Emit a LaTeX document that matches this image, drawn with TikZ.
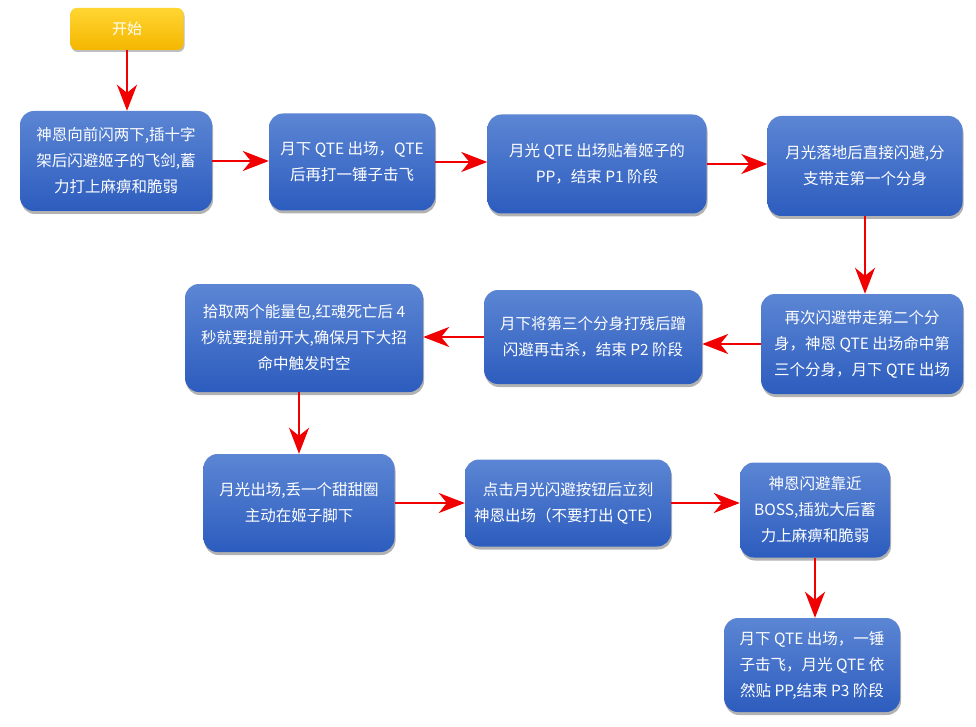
\documentclass[tikz,border=0pt]{standalone}
\usepackage{fontspec}
\setmainfont{Noto Sans CJK SC}
\usetikzlibrary{arrows.meta,shadows}
\definecolor{btop}{RGB}{92,134,212}
\definecolor{bbot}{RGB}{44,92,190}
\definecolor{ytop}{RGB}{255,214,50}
\definecolor{ybot}{RGB}{245,182,0}
\definecolor{arrred}{RGB}{240,0,0}
\tikzset{
  box/.style={rectangle, rounded corners=14pt, top color=btop, bottom color=bbot,
    text=white, align=center, font=\fontsize{15.5}{26}\selectfont, inner sep=0pt,
    drop shadow={shadow xshift=1pt, shadow yshift=-3pt, opacity=0.3, fill=black}},
  startbox/.style={rectangle, rounded corners=6pt, top color=ytop, bottom color=ybot,
    text=white, align=center, font=\fontsize{15}{20}\selectfont,
    minimum width=113pt, minimum height=42pt,
    drop shadow={shadow xshift=1pt, shadow yshift=-2pt, opacity=0.25, fill=black}},
  arr/.style={draw=arrred, line width=2.2pt, -{Stealth[length=26pt, width=20pt, inset=8pt]}}
}
\begin{document}
\begin{tikzpicture}[x=1pt,y=-1pt]
\useasboundingbox[fill=white] (0,0) rectangle (976,727);
\node[startbox] (s) at (127,29) {开始};
\node[box, minimum width=192pt, minimum height=100pt] (b1) at (116,161)
  {神恩向前闪两下,插十字\\架后闪避姬子的飞剑,蓄\\力打上麻痹和脆弱};
\node[box, minimum width=166pt, minimum height=97pt] (b2) at (352,162)
  {月下 QTE 出场，QTE\\后再打一锤子击飞};
\node[box, minimum width=219pt, minimum height=99pt] (b3) at (597,164)
  {月光 QTE 出场贴着姬子的\\PP，结束 P1 阶段};
\node[box, minimum width=195pt, minimum height=100pt] (b4) at (865,166)
  {月光落地后直接闪避,分\\支带走第一个分身};
\node[box, minimum width=202pt, minimum height=100pt] (b5) at (862,344)
  {再次闪避带走第二个分\\身，神恩 QTE 出场命中第\\三个分身，月下 QTE 出场};
\node[box, minimum width=218pt, minimum height=94pt] (b6) at (593,337)
  {月下将第三个分身打残后蹭\\闪避再击杀，结束 P2 阶段};
\node[box, minimum width=238pt, minimum height=108pt] (b7) at (304,338)
  {拾取两个能量包,红魂死亡后 4\\秒就要提前开大,确保月下大招\\命中触发时空};
\node[box, minimum width=191pt, minimum height=98pt] (b8) at (299,503)
  {月光出场,丢一个甜甜圈\\主动在姬子脚下};
\node[box, minimum width=206pt, minimum height=87pt] (b9) at (568,503)
  {点击月光闪避按钮后立刻\\神恩出场（不要打出 QTE）};
\node[box, minimum width=150pt, minimum height=95pt] (b10) at (815,510)
  {神恩闪避靠近\\BOSS,插犹大后蓄\\力上麻痹和脆弱};
\node[box, minimum width=176pt, minimum height=94pt] (b11) at (812,665)
  {月下 QTE 出场，一锤\\子击飞，月光 QTE 依\\然贴 PP,结束 P3 阶段};
\draw[arr] (s) -- (s |- b1.north);
\draw[arr] (b1.east) -- (b1.east -| b2.west);
\draw[arr] (b2.east) -- (b2.east -| b3.west);
\draw[arr] (b3.east) -- (b3.east -| b4.west);
\draw[arr] (b4) -- (b4 |- b5.north);
\draw[arr] (b5.west) -- (b5.west -| b6.east);
\draw[arr] (b6.west) -- (b6.west -| b7.east);
\draw[arr] (b8.north |- b7.south) -- (b8.north);
\draw[arr] (b8.east) -- (b8.east -| b9.west);
\draw[arr] (b9.east) -- (b9.east -| b10.west);
\draw[arr] (b10.south) -- (b10.south |- b11.north);
\end{tikzpicture}
\end{document}
